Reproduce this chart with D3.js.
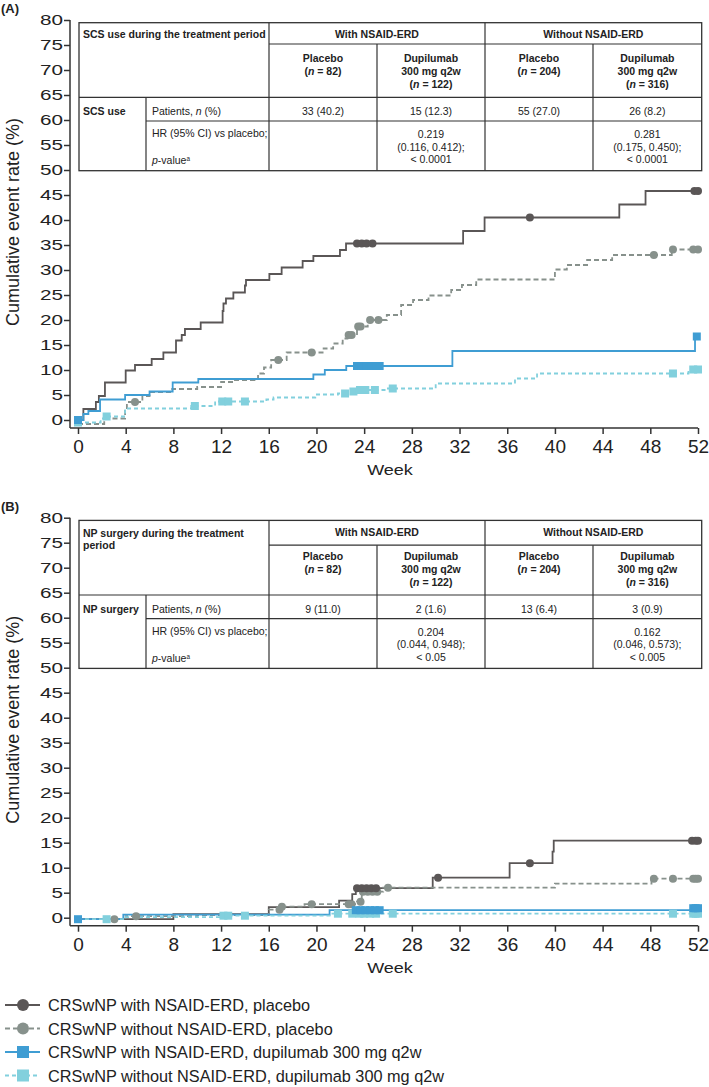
<!DOCTYPE html>
<html><head><meta charset="utf-8">
<script src="https://cdn.jsdelivr.net/npm/d3@7"></script>
<style>
body{margin:0;background:#fff;}
svg{display:block;font-family:"Liberation Sans",Arial,Helvetica,sans-serif;}
</style></head><body>
<svg id="c" width="709" height="1087"></svg>
<script>
// ---------- DATA ----------
const weekTicks = d3.range(0, 53, 4);
const rateTicks = d3.range(0, 81, 5);

const seriesNames = [
  "CRSwNP with NSAID-ERD, placebo",
  "CRSwNP without NSAID-ERD, placebo",
  "CRSwNP with NSAID-ERD, dupilumab 300 mg q2w",
  "CRSwNP without NSAID-ERD, dupilumab 300 mg q2w"
];
const seriesColors = ["#5a5656", "#87918c", "#3f9dd3", "#82d0dd"];
const seriesDash = [null, "5,3", null, "4,3"];
const seriesMarker = ["circle", "circle", "square", "square"];

// Panel A: SCS use — step points [week, cumulative %]
const scsWithPlacebo = [[0,0],[0.45,2.2],[1.5,3.6],[1.75,4.8],[2.26,7.5],[4.0,9.9],[4.78,11.0],[6.18,12.2],[7.16,13.5],[8.22,15.9],[8.7,17.0],[8.97,18.2],[10.29,19.5],[12.13,21.8],[12.2,23.3],[12.41,24.3],[13.03,25.5],[14.0,26.9],[14.09,28.0],[16.05,29.2],[17.08,30.5],[18.84,31.8],[19.74,32.8],[21.97,34.0],[22.48,35.3],[32.3,37.8],[34.1,40.5],[45.4,43.1],[47.6,45.8]];
const scsWithoutPlacebo = [[0,-0.8],[2.2,0.3],[3.95,2.0],[4.1,3.6],[5.4,4.8],[6.0,5.6],[7.9,6.2],[10.0,6.6],[12.0,7.6],[13.0,8.0],[14.8,8.2],[15.1,9.3],[15.6,10.5],[16.2,12.0],[17.5,13.5],[20.6,14.3],[21.4,15.3],[22.2,16.3],[22.6,17.0],[23.4,18.7],[24.3,20.0],[25.9,21.0],[27.1,23.0],[28.1,24.0],[29.4,24.9],[31.3,26.0],[32.2,27.0],[33.4,28.1],[40.0,30.1],[41.0,31.0],[42.7,32.0],[44.8,33.0],[49.8,34.1]];
const scsWithDupi = [[0,0],[0.45,1.2],[0.87,1.8],[1.85,4.1],[3.95,5.0],[6.0,5.7],[7.94,7.5],[10.09,8.2],[19.74,9.1],[20.7,10.0],[22.5,10.8],[31.4,13.8],[51.75,16.7]];
const scsWithoutDupi = [[0,-0.5],[1.9,0.3],[2.3,0.7],[3.95,2.3],[9.5,2.8],[11.5,3.7],[15.8,4.1],[16.4,4.5],[19.9,5.1],[21.8,5.3],[22.9,5.7],[23.4,6.0],[25.8,6.3],[30.0,7.3],[36.65,8.3],[38.5,9.3],[51.2,10.1]];
const scsCensor = [
  [23.4,23.8,24.2,24.7,37.9,51.7,52.0],
  [4.78,16.8,19.6,22.7,22.95,23.5,23.7,24.5,25.2,48.3,49.9,51.6,52.0],
  [0,23.4,23.8,24.2,24.6,25.0,25.3,51.9],
  [0,2.4,9.8,12.1,12.6,14.0,22.4,23.1,23.65,24.1,24.9,26.4,49.9,51.6,52.0]
];

// Panel B: NP surgery
const npWithPlacebo = [[0,-0.3],[8.0,0.7],[16.0,2.1],[21.9,3.4],[23.0,4.7],[23.3,5.9],[29.75,8.0],[36.2,10.9],[39.8,13.2],[39.9,15.4]];
const npWithoutPlacebo = [[0,-0.3],[4.0,0.3],[10.0,0.5],[16.0,1.6],[17.0,2.2],[19.0,2.7],[23.4,3.2],[23.8,5.2],[25.6,6.0],[40.0,6.8],[48.1,7.8]];
const npWithDupi = [[0,-0.3],[3.8,0.6],[21.1,1.5],[51.4,1.9]];
const npWithoutDupi = [[0,-0.3],[4.0,0.1],[12.0,0.4],[21.2,0.8]];
const npCensor = [
  [23.4,23.8,24.2,24.6,25.0,30.2,37.9,51.5,51.8,52.0],
  [3.05,4.87,16.9,17.1,19.6,22.7,22.95,23.7,23.9,24.3,24.7,25.1,26.0,48.3,49.9,51.6,51.8,52.0],
  [0,23.3,23.7,24.1,24.5,24.9,25.3,51.6,51.8,52.0],
  [2.4,12.2,12.6,14.0,21.8,23.0,23.6,24.0,24.5,25.0,26.4,49.9,51.6,51.8,52.0]
];

// Tables
const groupHeaders = ["With NSAID-ERD", "Without NSAID-ERD"];
const armHeaders = [["Placebo","(*n* = 82)"],["Dupilumab","300 mg q2w","(*n* = 122)"],["Placebo","(*n* = 204)"],["Dupilumab","300 mg q2w","(*n* = 316)"]];
const rowLabels = ["Patients, *n* (%)", "HR (95% CI) vs placebo;", "*p*-value^a"];
const scsTitle = ["SCS use during the treatment period"];
const scsRowHead = "SCS use";
const scsPatients = ["33 (40.2)","15 (12.3)","55 (27.0)","26 (8.2)"];
const scsHR = [null, ["0.219","(0.116, 0.412);","< 0.0001"], null, ["0.281","(0.175, 0.450);","< 0.0001"]];
const npTitle = ["NP surgery during the treatment","period"];
const npRowHead = "NP surgery";
const npPatients = ["9 (11.0)","2 (1.6)","13 (6.4)","3 (0.9)"];
const npHR = [null, ["0.204","(0.044, 0.948);","< 0.05"], null, ["0.162","(0.046, 0.573);","< 0.005"]];

const panels = [
  {label:"(A)", off:0, hdr:44, series:[scsWithPlacebo,scsWithoutPlacebo,scsWithDupi,scsWithoutDupi], censor:scsCensor,
   title:scsTitle, rowHead:scsRowHead, patients:scsPatients, hr:scsHR},
  {label:"(B)", off:497.7, hdr:47.5, series:[npWithPlacebo,npWithoutPlacebo,npWithDupi,npWithoutDupi], censor:npCensor,
   title:npTitle, rowHead:npRowHead, patients:npPatients, hr:npHR}
];

// ---------- DRAW ----------
const svg = d3.select("#c");
const x = d3.scaleLinear().domain([0,52]).range([78,698]);
const yMin = -1.6;
const INK = "#222";

function richText(sel, str) {
  // *x* = italic, ^x = superscript
  const parts = str.split("*");
  parts.forEach((p, i) => {
    if (i % 2 === 1) { sel.append("tspan").attr("font-style","italic").text(p); return; }
    const sup = p.split("^");
    if (sup[0]) sel.append("tspan").text(sup[0]);
    if (sup.length > 1) sel.append("tspan").attr("font-size","0.6em").attr("baseline-shift","super").text(sup[1]);
  });
}

function stepValue(data, w) {
  let v = data[0][1];
  for (const d of data) { if (d[0] <= w + 1e-9) v = d[1]; }
  return v;
}

panels.forEach(P => {
  const g = svg.append("g").attr("transform", `translate(0,${P.off})`);
  const y = d3.scaleLinear().domain([0,80]).range([420,20]);

  g.append("text").attr("x",1).attr("y",13).attr("font-weight","bold").attr("font-size",13).attr("fill",INK).text(P.label);

  // y axis
  const ya = g.append("g").attr("transform","translate(70,0)")
    .call(d3.axisLeft(y).tickValues(rateTicks).tickSize(6).tickPadding(1));
  ya.select(".domain").remove();
  ya.selectAll(".tick line").attr("stroke","#333").attr("stroke-width",1.5);
  ya.selectAll(".tick text").attr("font-size",15).attr("fill",INK)
    .attr("font-family",'"Liberation Sans",Arial,sans-serif')
    .attr("transform","scale(1.38,1)").attr("x",-7/1.38);
  g.append("line").attr("x1",70).attr("x2",70).attr("y1",y(80)).attr("y2",y(yMin)).attr("stroke","#333").attr("stroke-width",1.5);

  // x axis
  const xa = g.append("g").attr("transform",`translate(0,${y(yMin)})`)
    .call(d3.axisBottom(x).tickValues(weekTicks).tickSize(6).tickPadding(6));
  xa.select(".domain").remove();
  xa.selectAll(".tick line").attr("stroke","#333").attr("stroke-width",1.5);
  xa.selectAll(".tick text").attr("font-size",19).attr("fill",INK)
    .attr("font-family",'"Liberation Sans",Arial,sans-serif');
  g.append("line").attr("x1",70).attr("x2",x(52)).attr("y1",y(yMin)).attr("y2",y(yMin)).attr("stroke","#333").attr("stroke-width",1.5);

  g.append("text").attr("font-size",15).attr("fill",INK).attr("text-anchor","middle")
    .attr("transform",`translate(390,475) scale(1.2,1)`).text("Week");
  g.append("text").attr("font-size",18).attr("fill",INK).attr("text-anchor","middle")
    .attr("transform",`translate(18.5,222) rotate(-90)`).text("Cumulative event rate (%)");

  // curves
  const line = d3.line().x(d=>x(d[0])).y(d=>y(d[1])).curve(d3.curveStepAfter);
  P.series.forEach((s, i) => {
    const full = s.concat([[52, s[s.length-1][1]]]);
    g.append("path").datum(full).attr("d",line).attr("fill","none")
      .attr("stroke",seriesColors[i]).attr("stroke-width",1.8)
      .attr("stroke-dasharray",seriesDash[i]);
  });
  // censor markers
  [1,0,3,2].forEach(i => {
    const s = P.series[i];
    const pts = P.censor[i].map(w => [w, stepValue(s, w)]);
    if (seriesMarker[i] === "circle") {
      g.selectAll(null).data(pts).enter().append("circle")
        .attr("cx",d=>x(d[0])).attr("cy",d=>y(d[1])).attr("r",4).attr("fill",seriesColors[i]);
    } else {
      g.selectAll(null).data(pts).enter().append("rect")
        .attr("x",d=>x(d[0])-4).attr("y",d=>y(d[1])-4).attr("width",8).attr("height",8).attr("fill",seriesColors[i]);
    }
  });

  // table
  const T = g.append("g");
  const xs = [79,146,269,377,485,593,701.7];
  const top = 22.7, r2 = 97.3, r3 = 121, bot = 170.7;
  T.append("rect").attr("x",xs[0]).attr("y",top).attr("width",xs[6]-xs[0]).attr("height",bot-top)
    .attr("fill","#fff").attr("stroke","#333").attr("stroke-width",1.3);
  const L = (x1,y1,x2,y2) => T.append("line").attr("x1",x1).attr("y1",y1).attr("x2",x2).attr("y2",y2).attr("stroke","#333").attr("stroke-width",1.2);
  L(xs[2],P.hdr,xs[6],P.hdr); L(xs[0],r2,xs[6],r2); L(xs[1],r3,xs[6],r3);
  L(xs[1],r2,xs[1],bot); L(xs[2],top,xs[2],bot); L(xs[4],top,xs[4],bot);
  L(xs[3],P.hdr,xs[3],bot); L(xs[5],P.hdr,xs[5],bot);

  const tx = (xx, yy, str, opt={}) => {
    const t = T.append("text").attr("x",xx).attr("y",yy).attr("font-size",10.5).attr("fill",INK)
      .attr("text-anchor",opt.anchor||"start").attr("font-weight",opt.bold?"bold":null);
    richText(t, str); return t;
  };
  P.title.forEach((s,k) => tx(83, 38 + k*12.5 + (P.title.length>1?1:0), s, {bold:true}));
  groupHeaders.forEach((s,k) => tx((xs[2+2*k]+xs[4+2*k])/2, 38, s, {bold:true, anchor:"middle"}));
  armHeaders.forEach((lines,k) => {
    const cx = (xs[2+k]+xs[3+k])/2;
    lines.forEach((s,j) => tx(cx, 62 + j*13, s, {bold:true, anchor:"middle"}));
  });
  tx(83, 115, P.rowHead, {bold:true});
  tx(152, 115, rowLabels[0]);
  tx(152, 137, rowLabels[1]);
  tx(152, 164, rowLabels[2]);
  P.patients.forEach((s,k) => tx((xs[2+k]+xs[3+k])/2, 115, s, {anchor:"middle"}));
  P.hr.forEach((lines,k) => {
    if (!lines) return;
    const cx = (xs[2+k]+xs[3+k])/2;
    lines.forEach((s,j) => tx(cx, 138 + j*12.5, s, {anchor:"middle"}));
  });
});

// legend
const lg = svg.append("g");
seriesNames.forEach((name, i) => {
  const cy = 1005 + i*23.5;
  lg.append("line").attr("x1",5).attr("x2",40).attr("y1",cy).attr("y2",cy)
    .attr("stroke",seriesColors[i]).attr("stroke-width",1.8).attr("stroke-dasharray",seriesDash[i]);
  if (seriesMarker[i] === "circle") {
    lg.append("circle").attr("cx",23).attr("cy",cy).attr("r",6).attr("fill",seriesColors[i]);
  } else {
    lg.append("rect").attr("x",17).attr("y",cy-6).attr("width",12).attr("height",12).attr("fill",seriesColors[i]);
  }
  lg.append("text").attr("x",48).attr("y",cy+6).attr("font-size",16.3).attr("fill",INK).text(name);
});
</script>
</body></html>
